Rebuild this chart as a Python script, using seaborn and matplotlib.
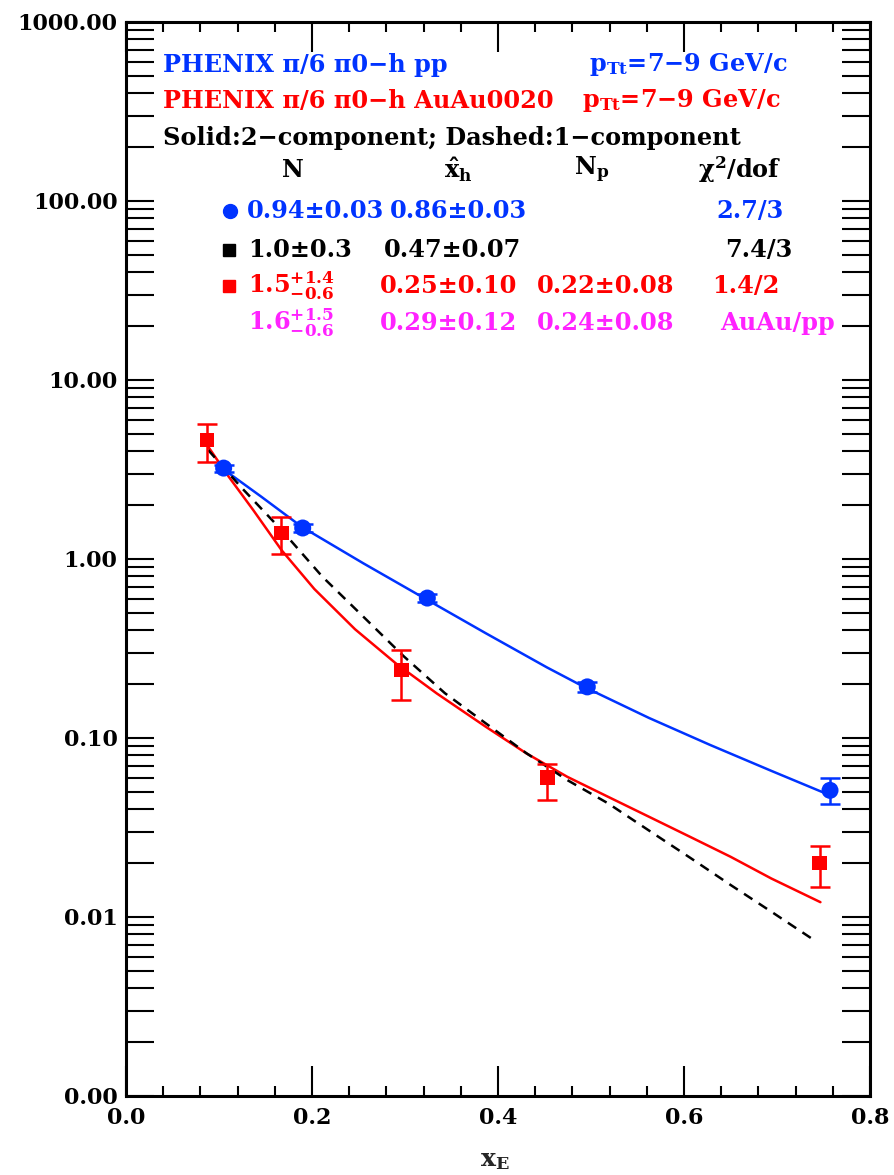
import numpy as np
import pandas as pd
import matplotlib
matplotlib.use("Agg")
import matplotlib.pyplot as plt
import seaborn as sns
from matplotlib.ticker import FixedLocator, FixedFormatter, NullFormatter

# pp data points (blue circles)
pp_x = [0.105, 0.190, 0.324, 0.496, 0.757]
pp_y = [3.22, 1.49, 0.605, 0.193, 0.051]
pp_err_lo = [0.15, 0.07, 0.03, 0.012, 0.008]
pp_err_hi = [0.15, 0.07, 0.03, 0.012, 0.009]

# AuAu 0-20% data points (red squares)
au_x = [0.087, 0.167, 0.296, 0.453, 0.746]
au_y = [4.62, 1.40, 0.24, 0.060, 0.020]
au_err_lo = [1.12, 0.33, 0.077, 0.015, 0.0052]
au_err_hi = [1.08, 0.32, 0.070, 0.012, 0.005]

# pp two-component fit (blue solid)
pp_fit_x = [0.1059, 0.1454, 0.1892, 0.2552, 0.3210, 0.3868, 0.4526, 0.4921,
            0.5624, 0.6282, 0.6940, 0.7511]
pp_fit_y = [3.14, 2.23, 1.51, 0.946, 0.603, 0.385, 0.248, 0.1935,
            0.1294, 0.0914, 0.0655, 0.0493]

# AuAu two-component fit (red solid)
au_fit_x = [0.0884, 0.1103, 0.1367, 0.1673, 0.2025, 0.2463, 0.2902, 0.3341,
            0.3868, 0.4306, 0.4745, 0.5185, 0.5624, 0.6062, 0.6501, 0.6940,
            0.7467]
au_fit_y = [4.24, 2.89, 1.88, 1.12, 0.680, 0.405, 0.261, 0.1775,
            0.1156, 0.0820, 0.0607, 0.0469, 0.0363, 0.0281, 0.0217, 0.0164,
            0.0121]

# AuAu one-component fit (black dashed)
one_fit_x = [0.0884, 0.1234, 0.1673, 0.2112, 0.2552, 0.2990, 0.3429, 0.3868,
             0.4306, 0.4745, 0.5185, 0.5624, 0.6062, 0.6501, 0.6940, 0.7410]
one_fit_y = [4.06, 2.53, 1.45, 0.796, 0.476, 0.285, 0.178, 0.1208,
             0.0822, 0.0582, 0.0431, 0.0304, 0.0215, 0.0151, 0.0107, 0.00736]

y_ticks = [0.001, 0.01, 0.1, 1, 10, 100, 1000]
y_tick_labels = ["0.00", "0.01", "0.10", "1.00", "10.00", "100.00", "1000.00"]
x_ticks = [0.0, 0.2, 0.4, 0.6, 0.8]
x_tick_labels = ["0.0", "0.2", "0.4", "0.6", "0.8"]

BLUE = "#0033ff"
RED = "#ff0000"
MAG = "#ff22ff"

sns.set_theme(style="ticks")
plt.rcParams["font.family"] = ["DejaVu Serif"]
plt.rcParams["mathtext.fontset"] = "dejavuserif"
plt.rcParams["font.weight"] = "bold"

# axes box in figure pixels
L, R, T, B = 126, 870, 22, 1096
W, H = 895, 1175

fig = plt.figure(figsize=(W / 100, H / 100), dpi=100)
ax = fig.add_axes([L / W, 1 - B / H, (R - L) / W, (B - T) / H])

fits = pd.concat([
    pd.DataFrame({"x": pp_fit_x, "y": pp_fit_y, "fit": "pp2"}),
    pd.DataFrame({"x": au_fit_x, "y": au_fit_y, "fit": "au2"}),
    pd.DataFrame({"x": one_fit_x, "y": one_fit_y, "fit": "au1"}),
])
sns.lineplot(data=fits, x="x", y="y", hue="fit", style="fit",
             palette={"pp2": BLUE, "au2": RED, "au1": "black"},
             dashes={"pp2": "", "au2": "", "au1": (4, 3)},
             linewidth=1.8, sort=False, estimator=None, legend=False, ax=ax)

ax.errorbar(pp_x, pp_y, yerr=[pp_err_lo, pp_err_hi], fmt="none",
            ecolor=BLUE, elinewidth=1.8, capsize=7, capthick=1.8, zorder=3)
ax.errorbar(au_x, au_y, yerr=[au_err_lo, au_err_hi], fmt="none",
            ecolor=RED, elinewidth=1.8, capsize=7, capthick=1.8, zorder=3)
sns.scatterplot(x=pp_x, y=pp_y, marker="o", s=150, color=BLUE,
                edgecolor="none", ax=ax, zorder=4)
sns.scatterplot(x=au_x, y=au_y, marker="s", s=110, color=RED,
                edgecolor="none", ax=ax, zorder=4)

ax.set_yscale("log")
ax.set_xlim(0, 0.8)
ax.set_ylim(0.001, 1000)
ax.yaxis.set_major_locator(FixedLocator(y_ticks))
ax.yaxis.set_major_formatter(FixedFormatter(y_tick_labels))
minor_y = [m * 10.0 ** e for e in range(-3, 3) for m in range(2, 10)]
ax.yaxis.set_minor_locator(FixedLocator(minor_y))
ax.yaxis.set_minor_formatter(NullFormatter())
ax.xaxis.set_major_locator(FixedLocator(x_ticks))
ax.xaxis.set_major_formatter(FixedFormatter(x_tick_labels))
ax.xaxis.set_minor_locator(FixedLocator(np.arange(0.04, 0.79, 0.04)))

for s in ax.spines.values():
    s.set_linewidth(2.2)
    s.set_color("black")
ax.tick_params(axis="both", which="both", direction="in", top=True, right=True,
               color="black", width=1.5, labelsize=16, labelcolor="black")
ax.tick_params(axis="y", which="both", length=20, pad=6)
ax.tick_params(axis="x", which="major", length=21.5, pad=8)
ax.tick_params(axis="x", which="minor", length=7.5)
for lab in ax.get_xticklabels() + ax.get_yticklabels():
    lab.set_fontweight("bold")
ax.set_xlabel("")
ax.set_ylabel("")
fig.text(495 / W, 1 - 1160 / H, r"$\mathbf{x_E}$", fontsize=18,
         ha="center", va="center")


def put(px, py, s, color="black", ha="left", size=17.3):
    ax.text((px - L) / (R - L), (B - py) / (B - T), s, color=color, ha=ha,
            va="center", fontsize=size, fontweight="bold",
            transform=ax.transAxes)


put(163, 65, "PHENIX π/6 π0−h pp", BLUE)
put(788, 65, r"p$_{\mathbf{Tt}}$=7−9 GeV/c", BLUE, ha="right")
put(163, 101, "PHENIX π/6 π0−h AuAu0020", RED)
put(781, 101, r"p$_{\mathbf{Tt}}$=7−9 GeV/c", RED, ha="right")
put(163, 138, "Solid:2−component; Dashed:1−component")

put(293, 170, "N", ha="center")
put(458, 170, r"$\hat{\mathbf{x}}_{\mathbf{h}}$", ha="center")
put(592, 170, r"N$_{\mathbf{p}}$", ha="center")
put(740, 170, r"χ$^{\mathbf{2}}$/dof", ha="center")

put(247, 211, "0.94±0.03", BLUE)
put(390, 211, "0.86±0.03", BLUE)
put(784, 211, "2.7/3", BLUE, ha="right")

put(248, 250, "1.0±0.3")
put(384, 250, "0.47±0.07")
put(792, 250, "7.4/3", ha="right")

put(248, 286, r"1.5$^{\mathbf{+1.4}}_{\mathbf{-0.6}}$", RED)
put(380, 286, "0.25±0.10", RED)
put(537, 286, "0.22±0.08", RED)
put(780, 286, "1.4/2", RED, ha="right")

put(248, 323, r"1.6$^{\mathbf{+1.5}}_{\mathbf{-0.6}}$", MAG)
put(380, 323, "0.29±0.12", MAG)
put(537, 323, "0.24±0.08", MAG)
put(835, 323, "AuAu/pp", MAG, ha="right")

# symbols marking each parameter row
ax.plot([(230 - L) / (R - L)], [(B - 211) / (B - T)], "o", color=BLUE,
        markersize=10, transform=ax.transAxes, clip_on=False)
ax.plot([(229 - L) / (R - L)], [(B - 250) / (B - T)], "s", color="black",
        markersize=8, transform=ax.transAxes, clip_on=False)
ax.plot([(229 - L) / (R - L)], [(B - 286) / (B - T)], "s", color=RED,
        markersize=8, transform=ax.transAxes, clip_on=False)

fig.savefig("out.png", dpi=100, facecolor="white")
